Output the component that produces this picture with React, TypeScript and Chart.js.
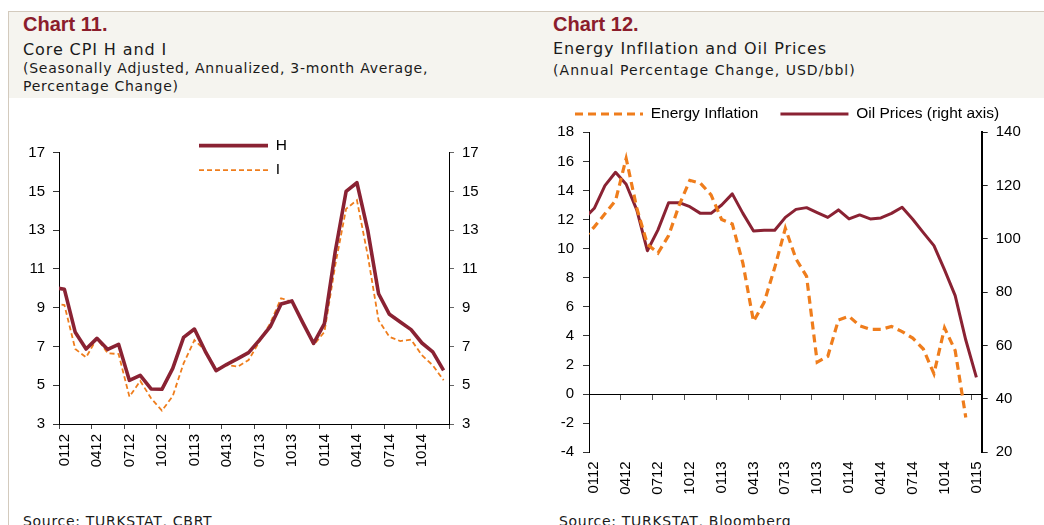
import React, { useEffect, useRef } from 'react';
import { Chart, registerables } from 'chart.js';

Chart.register(...registerables);

// ---------- Chart 11 data (monthly, Dec 2011 .. Dec 2014) ----------
const ticks11 = ['0112', '0412', '0712', '1012', '0113', '0413', '0713', '1013', '0114', '0414', '0714', '1014'];
const coreH = [
  10.05,
  9.95, 7.73, 6.87, 7.42, 6.85, 7.11, 5.25, 5.51, 4.81, 4.79, 5.87, 7.47,
  7.9, 6.75, 5.75, 6.08, 6.37, 6.68, 7.33, 8.02, 9.19, 9.35, 8.23, 7.16,
  8.18, 11.9, 15.0, 15.45, 12.99, 9.72, 8.66, 8.26, 7.87, 7.18, 6.72, 5.77,
];
const coreI = [
  9.22,
  9.14, 6.87, 6.44, 7.42, 6.65, 6.61, 4.41, 5.22, 4.33, 3.69, 4.44, 6.13,
  7.33, 6.8, 5.82, 6.04, 5.96, 6.3, 7.25, 8.2, 9.49, 9.31, 8.28, 7.08,
  7.75, 11.2, 14.1, 14.55, 11.7, 8.35, 7.5, 7.28, 7.35, 6.55, 6.03, 5.26,
];

// ---------- Chart 12 data (monthly, Dec 2011 .. Jan 2015) ----------
const ticks12 = ['0112', '0412', '0712', '1012', '0113', '0413', '0713', '1013', '0114', '0414', '0714', '1014', '0115'];
const energyInfl: (number | null)[] = [
  10.7,
  11.5, 12.4, 13.3, 16.2, 12.8, 10.3, 9.7, 10.9, 13.0, 14.7, 14.5, 13.7,
  12.0, 11.7, 9.0, 5.0, 6.3, 8.7, 11.4, 9.3, 8.1, 2.2, 2.6, 5.1,
  5.35, 4.7, 4.45, 4.45, 4.65, 4.3, 3.85, 3.1, 1.4, 4.55, 3.0, -1.6,
  null,
];
const oilPrice = [
  107.5,
  111.5, 120.0, 125.0, 120.5, 110.9, 95.6, 103.4, 113.6, 113.6, 112.1, 109.6, 109.6,
  112.75, 116.9, 109.6, 103.0, 103.25, 103.25, 108.1, 111.1, 111.75, 109.9, 108.1, 110.9,
  107.5, 109.0, 107.5, 107.9, 109.6, 111.9, 107.4, 102.4, 97.5, 88.4, 78.75, 62.1,
  48.1,
];

const RED = '#8a2233';
const ORANGE = '#ef7d1c';
const TITLE_RED = '#8b1d2c';
const AXIS_FONT = { family: '"Liberation Sans", Arial, sans-serif', size: 15 };
const LEGEND_FONT = { family: '"Liberation Sans", Arial, sans-serif', size: 15.5 };
const HEAD_FONT = '"DejaVu Sans", Verdana, sans-serif';

// index 0 is the month before the first axis category (only its segment edge shows)
const toPoints = (arr: (number | null)[]) => arr.map((v, i) => ({ x: i - 0.5, y: v }));

const legendPlacer = {
  id: 'legendPlacer',
  afterLayout(chart: any, _args: any, opts: any) {
    const lg = chart.legend;
    if (!lg || opts == null || opts.left == null) return;
    const w = lg.right - lg.left;
    const h = opts.height != null ? opts.height : lg.bottom - lg.top;
    lg.left = opts.left; lg.right = opts.left + w;
    lg.top = opts.top; lg.bottom = opts.top + h;
    lg.width = w; lg.height = h;
  },
};

// legend items showing each dataset's own line width and dash pattern
const lineLegendLabels = (chart: any) => {
  const items = (Chart.defaults.plugins.legend.labels as any).generateLabels(chart);
  items.forEach((it: any) => {
    const ds: any = chart.data.datasets[it.datasetIndex];
    it.lineDash = ds.borderDash || [];
    it.lineWidth = ds.borderWidth;
    it.strokeStyle = ds.borderColor;
    it.fillStyle = ds.borderColor;
    it.pointStyle = 'line';
  });
  return items;
};

const yTickGrid = (color: string, len: number) => ({
  drawOnChartArea: false, drawTicks: true, tickLength: len, color,
});

function Chart11() {
  const ref = useRef<HTMLCanvasElement>(null);
  useEffect(() => {
    const chart = new Chart(ref.current!, {
      type: 'line',
      data: {
        datasets: [
          {
            label: 'H', data: toPoints(coreH), borderColor: RED, borderWidth: 3.6,
            pointRadius: 0, tension: 0, borderJoinStyle: 'round',
            clip: { left: 0, right: 6, top: 6, bottom: 6 } as any,
          },
          {
            label: 'I', data: toPoints(coreI), borderColor: ORANGE, borderWidth: 1.8,
            borderDash: [5, 3], pointRadius: 0, tension: 0,
            clip: { left: 0, right: 6, top: 6, bottom: 6 } as any,
          },
        ],
      },
      options: {
        responsive: false,
        animation: false,
        layout: { padding: { top: 52.7, left: 0, right: 0, bottom: 0 } },
        scales: {
          x: {
            type: 'linear', min: 0, max: 36,
            afterFit: (s: any) => { s.height = 101; },
            ticks: {
              stepSize: 3, autoSkip: false, minRotation: 90, maxRotation: 90,
              labelOffset: 5.4, padding: 5, color: '#000', font: AXIS_FONT,
              callback: (v: any) => {
                const q = Number(v) / 3;
                return Number.isInteger(q) && q < ticks11.length ? ticks11[q] : '';
              },
            },
            grid: { drawOnChartArea: false, drawTicks: true, tickLength: 5, color: '#444' },
            border: { display: true, color: '#000', width: 1 },
          },
          y: {
            position: 'left', min: 3, max: 17,
            afterFit: (s: any) => { s.width = 59; },
            ticks: { stepSize: 2, color: '#000', font: AXIS_FONT, padding: 8 },
            grid: yTickGrid('#333', 6),
            border: { display: true, color: '#000', width: 1 },
          },
          y2: {
            position: 'right', min: 3, max: 17,
            afterFit: (s: any) => { s.width = 81; },
            ticks: { stepSize: 2, color: '#000', font: AXIS_FONT, padding: 8 },
            grid: yTickGrid('#666', 5),
            border: { display: true, color: '#000', width: 1 },
          },
        } as any,
        plugins: {
          legend: {
            position: 'chartArea' as any,
            align: 'start',
            labels: {
              usePointStyle: true, pointStyle: 'line', pointStyleWidth: 69,
              padding: 9, color: '#000', font: LEGEND_FONT,
              generateLabels: lineLegendLabels,
            },
          },
          tooltip: { enabled: false },
          legendPlacer: { left: 190, top: 28.9 },
        } as any,
      },
      plugins: [legendPlacer],
    });
    return () => chart.destroy();
  }, []);
  return (
    <canvas ref={ref} width={530} height={425}
      style={{ position: 'absolute', left: 0, top: 100, width: 530, height: 425 }} />
  );
}

function Chart12() {
  const ref = useRef<HTMLCanvasElement>(null);
  useEffect(() => {
    const chart = new Chart(ref.current!, {
      type: 'line',
      data: {
        datasets: [
          {
            label: 'Energy Inflation', data: toPoints(energyInfl), borderColor: ORANGE,
            borderWidth: 3.2, borderDash: [8, 5], pointRadius: 0, tension: 0,
            xAxisID: 'x', yAxisID: 'y',
            clip: { left: 0, right: 6, top: 6, bottom: 6 } as any,
          },
          {
            label: 'Oil Prices (right axis)', data: toPoints(oilPrice), borderColor: RED,
            borderWidth: 3, pointRadius: 0, tension: 0, borderJoinStyle: 'round',
            xAxisID: 'x', yAxisID: 'y1',
            clip: { left: 0, right: 6, top: 6, bottom: 6 } as any,
          },
        ],
      },
      options: {
        responsive: false,
        animation: false,
        layout: { padding: { top: 31.3, left: 0, right: 0, bottom: 0 } },
        scales: {
          x: {
            type: 'linear', position: { y: 0 } as any, min: 0, max: 37,
            ticks: { display: false, stepSize: 3, includeBounds: false },
            grid: { drawOnChartArea: false, drawTicks: true, tickLength: 5, color: '#555' },
            border: { display: true, color: '#000', width: 1 },
          },
          xb: {
            type: 'linear', position: 'bottom', min: 0, max: 37,
            afterFit: (s: any) => { s.height = 72.7; },
            ticks: {
              stepSize: 3, includeBounds: false, autoSkip: false, minRotation: 90, maxRotation: 90,
              labelOffset: 5.3, padding: 9, color: '#000', font: AXIS_FONT,
              callback: (v: any) => {
                const q = Number(v) / 3;
                return Number.isInteger(q) && q < ticks12.length ? ticks12[q] : '';
              },
            },
            grid: { display: false, drawTicks: false },
            border: { display: false },
          },
          y: {
            position: 'left', min: -4, max: 18,
            afterFit: (s: any) => { s.width = 59; },
            ticks: { stepSize: 2, color: '#000', font: AXIS_FONT, padding: 9 },
            grid: yTickGrid('#333', 6),
            border: { display: true, color: '#000', width: 1 },
          },
          y1: {
            position: 'right', min: 20, max: 140,
            afterFit: (s: any) => { s.width = 62.3; },
            ticks: { stepSize: 20, color: '#000', font: AXIS_FONT, padding: 8 },
            grid: yTickGrid('#222', 6),
            border: { display: true, color: '#000', width: 2 },
          },
        } as any,
        plugins: {
          legend: {
            position: 'top',
            align: 'start',
            maxHeight: 1,
            labels: {
              usePointStyle: true, pointStyle: 'line', pointStyleWidth: 68,
              padding: 22, color: '#000', font: LEGEND_FONT,
              generateLabels: lineLegendLabels,
            },
          },
          tooltip: { enabled: false },
          legendPlacer: { left: 23, top: -15.75, height: 50 },
        } as any,
      },
      plugins: [legendPlacer],
    });
    return () => chart.destroy();
  }, []);
  return (
    <canvas ref={ref} width={514} height={425}
      style={{ position: 'absolute', left: 530, top: 100, width: 514, height: 425 }} />
  );
}

const txt = (left: number, top: number, size: number, extra: React.CSSProperties = {}): React.CSSProperties => ({
  position: 'absolute', left, top, fontSize: size, lineHeight: `${size}px`, whiteSpace: 'nowrap',
  fontFamily: HEAD_FONT, color: '#1a1a1a', margin: 0, ...extra,
});

const chartTitle = (left: number): React.CSSProperties => ({
  position: 'absolute', left, top: 14, fontSize: 20, lineHeight: '20px', whiteSpace: 'nowrap',
  fontFamily: '"Liberation Sans", Arial, sans-serif', fontWeight: 'bold', color: TITLE_RED,
});

export default function App() {
  return (
    <div style={{ position: 'absolute', left: 0, top: 0, width: 1044, height: 525, overflow: 'hidden', background: '#ffffff' }}>
      <div style={{ position: 'absolute', left: 9, top: 12, width: 1035, height: 86, background: '#f5f4ef' }} />
      <div style={{ position: 'absolute', left: 8, top: 11, width: 1036, height: 1, background: '#d3cabd' }} />
      <div style={{ position: 'absolute', left: 8, top: 11, width: 1, height: 514, background: '#d3cabd' }} />

      <div style={chartTitle(23)}>Chart 11.</div>
      <div style={txt(23, 41.8, 16, { letterSpacing: '0.9px' })}>Core CPI H and I</div>
      <div style={txt(23, 60.7, 14, { letterSpacing: '0.75px' })}>(Seasonally Adjusted, Annualized, 3-month Average,</div>
      <div style={txt(23, 79.2, 14, { letterSpacing: '0.75px' })}>Percentage Change)</div>
      <div style={txt(23, 514, 14, { letterSpacing: '0.7px' })}>Source: TURKSTAT, CBRT</div>

      <div style={chartTitle(553)}>Chart 12.</div>
      <div style={txt(553, 41, 16, { letterSpacing: '0.9px' })}>Energy Infllation and Oil Prices</div>
      <div style={txt(553, 63.2, 14, { letterSpacing: '1.05px' })}>(Annual Percentage Change, USD/bbl)</div>
      <div style={txt(559, 514, 14, { letterSpacing: '0.7px' })}>Source: TURKSTAT, Bloomberg</div>

      <Chart11 />
      <Chart12 />
    </div>
  );
}
